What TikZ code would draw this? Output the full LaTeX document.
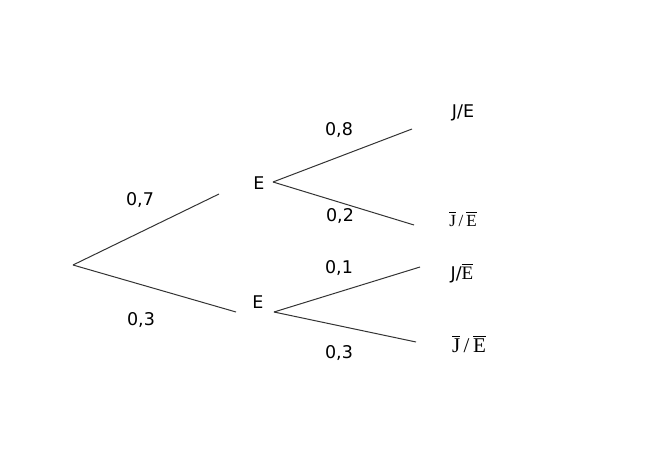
\documentclass[tikz,border=0pt]{standalone}
\usepackage{amsmath}
\usepackage{fontspec}
\setmainfont{DejaVu Sans}
\newfontfamily\serif{Liberation Serif}
\usetikzlibrary{positioning}
\tikzset{
  branch/.style={draw=black!80, line width=1pt},
  prob/.style={font=\fontsize{17.5}{20}\selectfont, inner sep=0pt},
  event/.style={font=\fontsize{17.5}{20}\selectfont, inner sep=0pt},
}
\newcommand{\nonE}{$\overline{\mbox{E}}$}
\newcommand{\nonJ}{$\overline{\mbox{J}}$}

\begin{document}
\begin{tikzpicture}[
    x=1pt, y=-1pt,
    leaf/.style={font=\fontsize{17.5}{20}\selectfont, inner sep=0pt}
    ]
    \useasboundingbox (0,0) rectangle (662,476);

    % first level
    \coordinate (root) at (73,265);
    \coordinate (E1in) at (219,194);
    \coordinate (E2in) at (236,312);
    \node[event] (E1) at (259,183) {E};
    \node[event] (E2) at (258,302) {E};
    \draw[branch] (root) -- (E1in);
    \draw[branch] (root) -- (E2in);
    \node[prob] (p07) at (140,200) {0,7};
    \node[prob] (p03) at (141,320) {0,3};

    % second level
    \coordinate (E1out) at (273,182);
    \coordinate (E2out) at (274,312);
    \coordinate (JE) at (412,129);
    \coordinate (nJE) at (414,225);
    \coordinate (JnE) at (420,267);
    \coordinate (nJnE) at (416,342);
    \draw[branch] (E1out) -- (JE);
    \draw[branch] (E1out) -- (nJE);
    \draw[branch] (E2out) -- (JnE);
    \draw[branch] (E2out) -- (nJnE);
    \node[prob] (p08) at (339,130) {0,8};
    \node[prob] (p02) at (340,216) {0,2};
    \node[prob] (p01) at (339,268) {0,1};
    \node[prob] (p03b) at (339,353) {0,3};

    % leaves
    \node[leaf] (lJE) at (463,113) {J/E};
    \node[leaf, font=\serif\fontsize{17}{20}\selectfont] (lnJE) at (463,219) {\nonJ\,/\,\nonE};
    \node[leaf] (lJnE) at (462,273) {J/{\serif\fontsize{19}{22}\selectfont\nonE}};
    \node[leaf, font=\serif\fontsize{21}{24}\selectfont] (lnJnE) at (469,344) {\nonJ\,/\,\nonE};
\end{tikzpicture}
\end{document}
